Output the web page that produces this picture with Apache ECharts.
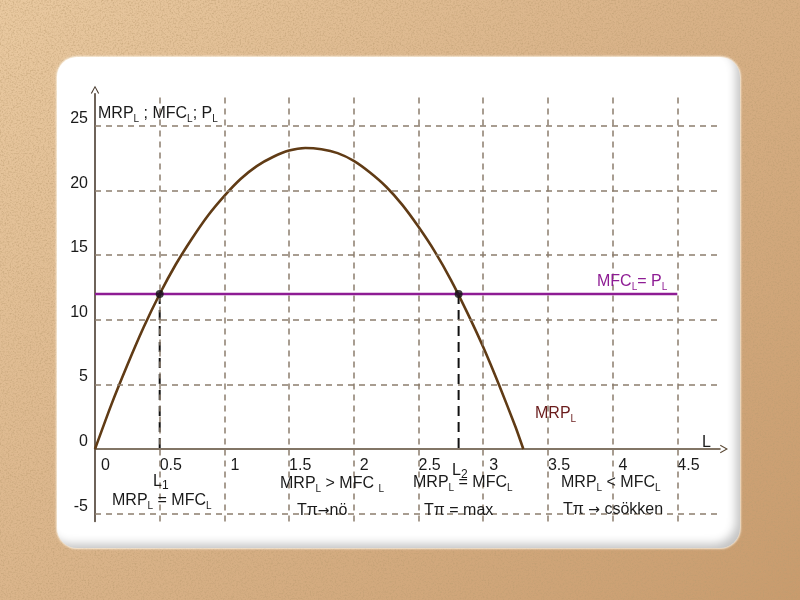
<!DOCTYPE html>
<html>
<head>
<meta charset="utf-8">
<script src="https://cdn.jsdelivr.net/npm/echarts@6/dist/echarts.min.js"></script>
<style>
html,body{margin:0;padding:0;width:800px;height:600px;overflow:hidden;}
body{
  background:
    url("data:image/svg+xml;utf8,<svg xmlns='http://www.w3.org/2000/svg' width='400' height='400'><filter id='n'><feTurbulence type='fractalNoise' baseFrequency='0.6' numOctaves='4' stitchTiles='stitch'/><feColorMatrix type='matrix' values='0 0 0 0 0.5  0 0 0 0 0.33  0 0 0 0 0.16  2.2 0 0 0 -0.95'/></filter><rect width='100%' height='100%' filter='url(%23n)' opacity='0.6'/></svg>"),
    linear-gradient(135deg,#e9c9a0 0%,#dab48a 45%,#c89b6d 100%);
}
#card{position:absolute;left:57px;top:57px;width:683px;height:491px;border-radius:20px;background:#fff;
  box-shadow: inset -7px -7px 10px -3px rgba(0,0,0,0.24), 0 0 2px 1px rgba(255,250,240,0.8);}
#chart{position:absolute;left:0;top:0;width:800px;height:600px;}
</style>
</head>
<body>
<div id="card"></div>
<div id="chart"></div>
<script>
// ---- data ----
const curveX = [0, 0.125, 0.25, 0.375, 0.5, 0.625, 0.75, 0.875, 1, 1.125, 1.25, 1.375, 1.5, 1.625, 1.75,
                1.875, 2, 2.125, 2.25, 2.375, 2.5, 2.625, 2.75, 2.875, 3, 3.125, 3.25, 3.31];
const curveY = [0, 3.4, 6.5, 9.4, 12, 14.3, 16.3, 18.1, 19.6, 20.9, 21.9, 22.6, 23.1, 23.3, 23.2,
                22.9, 22.3, 21.4, 20.3, 18.9, 17.2, 15.3, 13.1, 10.6, 7.9, 4.9, 1.7, 0];
const priceLevel = 12;          // MFC_L = P_L
const priceLineEnd = 4.5;
const L1 = 0.5, L2 = 2.81;      // intersections
const xTicks = [0, 0.5, 1, 1.5, 2, 2.5, 3, 3.5, 4, 4.5];
const yTicks = [-5, 0, 5, 10, 15, 20, 25];
const gridXLines = [0.5, 1, 1.5, 2, 2.5, 3, 3.5, 4, 4.5];
const gridYLines = [-5, 5, 10, 15, 20, 25];
const xMin = 0, xMax = 4.83, yMin = -5.6, yMax = 27.5;

const FONT = '"Liberation Sans", Arial, sans-serif';
function rich(color){
  return {
    n:{fontSize:16,fontFamily:FONT,fill:color,color:color,lineHeight:20,verticalAlign:'middle'},
    s:{fontSize:10,fontFamily:FONT,fill:color,color:color,lineHeight:8,verticalAlign:'bottom'},
    d:{fontSize:12,fontFamily:FONT,fill:color,color:color,lineHeight:13,verticalAlign:'bottom'},
    a:{fontSize:14,fontFamily:'"DejaVu Sans", sans-serif',fill:color,color:color,lineHeight:20,verticalAlign:'middle'}
  };
}
function txt(left, top, text, color){
  return {type:'text', left:left, top:top + 6, z:100,
    style:{text:text, rich:rich(color||'#1a1a1a'), fill:color||'#1a1a1a', font:'16px '+FONT}};
}

const chart = echarts.init(document.getElementById('chart'), null, {renderer:'canvas'});
const gridStyle = {color:'#8c7e6e', type:[6,5], width:1.5};
const arrow = 'path://M0,9 L5,0 L10,9 L8.8,9.6 L5,2.6 L1.2,9.6 Z';
const GRID_TOP = 93.7, GRID_BOTTOM = 78.6, PLOT_H = 600 - GRID_TOP - GRID_BOTTOM;
const zeroOffset = -PLOT_H * (0 - yMin) / (yMax - yMin);

chart.setOption({
  animation:false,
  grid:{left:95, right:80, top:GRID_TOP, bottom:GRID_BOTTOM, outerBoundsMode:'none', containLabel:false},
  xAxis:{type:'value', min:xMin, max:xMax, position:'bottom', offset:zeroOffset,
    axisLine:{onZero:false, lineStyle:{color:'#5a4834', width:1.6}, symbol:['none', arrow], symbolSize:[9,8], symbolOffset:[0,4]},
    axisTick:{show:false, customValues:xTicks},
    splitLine:{show:false},
    axisLabel:{customValues:xTicks, align:'left', margin:9, color:'#1a1a1a', fontSize:16, fontFamily:FONT,
      formatter:function(v){ return (Math.round(v*2)%2===0)? '{i|'+v+'}' : '{h|'+v+'}'; },
      rich:{i:{padding:[0,0,0,6],fontSize:16,fontFamily:FONT,color:'#1a1a1a'}, h:{fontSize:16,fontFamily:FONT,color:'#1a1a1a'}}}
  },
  yAxis:{type:'value', min:yMin, max:yMax,
    axisLine:{lineStyle:{color:'#4a3c30', width:1.6}, symbol:['none', arrow], symbolSize:[9,8], symbolOffset:[0,4]},
    axisTick:{show:false, customValues:yTicks},
    splitLine:{show:false},
    axisLabel:{customValues:yTicks, margin:7, color:'#1a1a1a', fontSize:16, fontFamily:FONT, verticalAlign:'bottom', lineHeight:15}
  },
  series:[
    {type:'line', data:[], silent:true, z:1,
     markLine:{silent:true, symbol:['none','none'], label:{show:false}, lineStyle:gridStyle, animation:false,
       data: gridXLines.map(x=>[{coord:[x,yMin]},{coord:[x,yMax]}]).concat(
             gridYLines.map(y=>[{coord:[xMin,y]},{coord:[xMax,y]}]))}
    },
    {type:'line', name:'L1', data:[[L1,priceLevel],[L1,0]], symbol:'none', z:3,
     lineStyle:{color:'#111', width:2, type:[10,6]}},
    {type:'line', name:'L2', data:[[L2,priceLevel],[L2,0]], symbol:'none', z:3,
     lineStyle:{color:'#111', width:2, type:[10,6]}},
    {type:'line', name:'MRP', data:curveX.map((x,i)=>[x,curveY[i]]), symbol:'none', smooth:0.2, z:4,
     lineStyle:{color:'#603b15', width:2.6}},
    {type:'line', name:'MFC', data:[[0,priceLevel],[priceLineEnd,priceLevel]], symbol:'none', z:5,
     lineStyle:{color:'#8e1c94', width:2.6}},
    {type:'scatter', data:[[L1,priceLevel],[L2,priceLevel]], symbolSize:8, z:6,
     itemStyle:{color:'#111'}}
  ],
  graphic:[
    txt(98, 100, '{n|MRP}{s|L}{n| ; MFC}{s|L}{n|; P}{s|L}'),
    txt(597, 268, '{n|MFC}{s|L}{n|= P}{s|L}', '#8e1c94'),
    txt(535, 400, '{n|MRP}{s|L}', '#6a1c1c'),
    txt(702, 429, '{n|L}'),
    txt(153, 468, '{n|L}{d|1}'),
    txt(452, 457, '{n|L}{d|2}'),
    txt(112, 487, '{n|MRP}{s|L}{n| = MFC}{s|L}'),
    txt(280, 470, '{n|MRP}{s|L}{n| > MFC }{s|L}'),
    txt(297, 497, '{n|Tπ}{a|→}{n|nö}'),
    txt(413, 469, '{n|MRP}{s|L}{n| = MFC}{s|L}'),
    txt(424, 497, '{n|Tπ = max}'),
    txt(561, 469, '{n|MRP}{s|L}{n| < MFC}{s|L}'),
    txt(563, 496, '{n|Tπ }{a|→}{n| csökken}')
  ]
});
</script>
</body>
</html>
